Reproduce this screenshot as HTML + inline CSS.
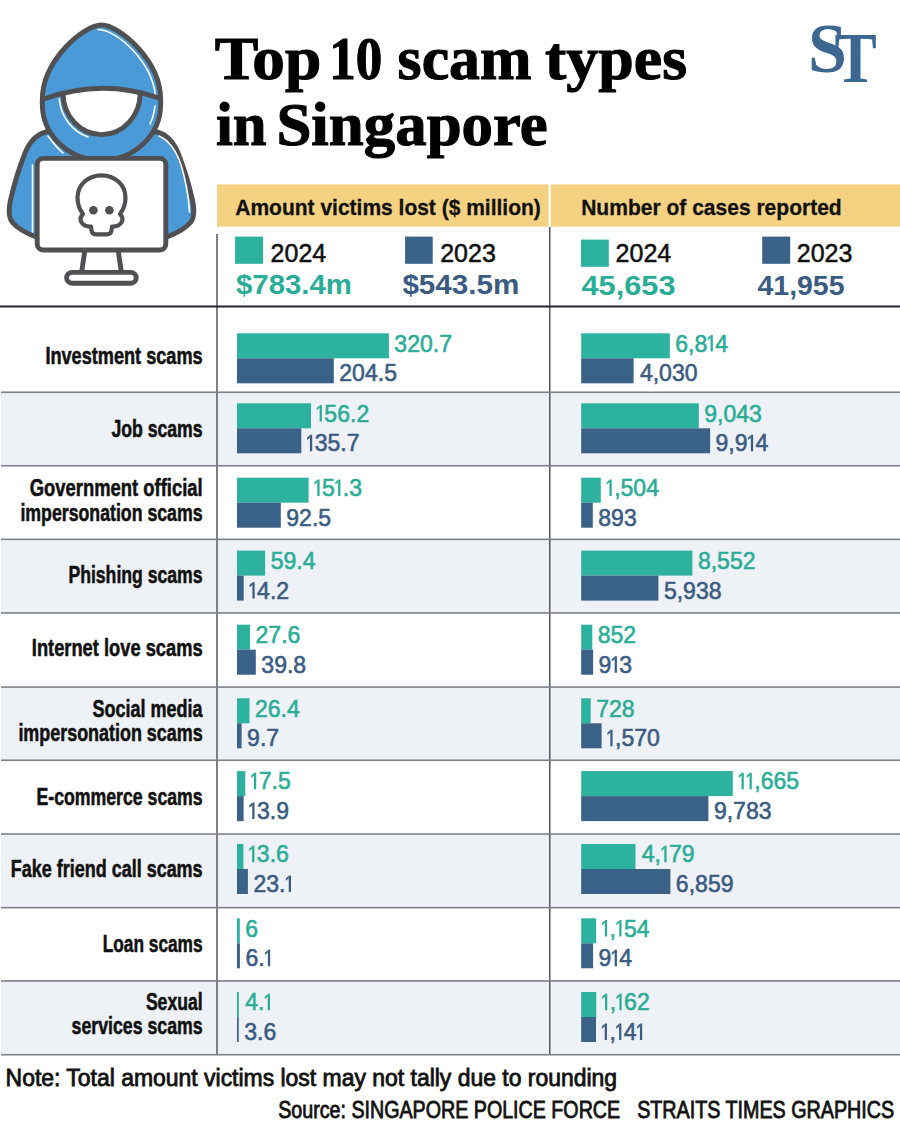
<!DOCTYPE html><html><head><meta charset="utf-8"><style>html,body{margin:0;padding:0;background:#fff;}svg{display:block;}</style></head><body>
<svg width="900" height="1125" viewBox="0 0 900 1125">
<rect x="0" y="0" width="900" height="1125" fill="#fff"/>
<rect x="1" y="392.2" width="899" height="73.5" fill="#eef1f6"/>
<rect x="1" y="539.3" width="899" height="73.6" fill="#eef1f6"/>
<rect x="1" y="687.0" width="899" height="73.2" fill="#eef1f6"/>
<rect x="1" y="834.0" width="899" height="73.6" fill="#eef1f6"/>
<rect x="1" y="980.9" width="899" height="73.8" fill="#eef1f6"/>
<rect x="217" y="184.4" width="331.6" height="42.3" fill="#f5d282"/>
<rect x="550.6" y="184.4" width="349.4" height="42.3" fill="#f5d282"/>
<rect x="216" y="234" width="2" height="821" fill="#7f7f88"/>
<rect x="549" y="227" width="1.5" height="828" fill="#55555f"/>
<rect x="1" y="391.45" width="899" height="1.6" fill="#80808a"/>
<rect x="1" y="464.95" width="899" height="1.6" fill="#80808a"/>
<rect x="1" y="538.55" width="899" height="1.6" fill="#80808a"/>
<rect x="1" y="612.15" width="899" height="1.6" fill="#80808a"/>
<rect x="1" y="686.25" width="899" height="1.6" fill="#80808a"/>
<rect x="1" y="759.45" width="899" height="1.6" fill="#80808a"/>
<rect x="1" y="833.25" width="899" height="1.6" fill="#80808a"/>
<rect x="1" y="906.85" width="899" height="1.6" fill="#80808a"/>
<rect x="1" y="980.15" width="899" height="1.6" fill="#80808a"/>
<rect x="1" y="1053.95" width="899" height="1.6" fill="#80808a"/>
<rect x="0" y="305.5" width="900" height="2" fill="#22222f"/>
<g font-family="Liberation Serif" font-weight="700" font-size="62" fill="#000" stroke="#000" stroke-width="1.1">
<text x="214.8" y="79.3" textLength="106.5" lengthAdjust="spacingAndGlyphs">Top</text>
<text x="329.3" y="79.3" textLength="53.1" lengthAdjust="spacingAndGlyphs">10</text>
<text x="397.6" y="79.3" textLength="133.9" lengthAdjust="spacingAndGlyphs">scam</text>
<text x="545.0" y="79.3" textLength="142.0" lengthAdjust="spacingAndGlyphs">types</text>
<text x="216.0" y="144.9" textLength="50.6" lengthAdjust="spacingAndGlyphs">in</text>
<text x="276.4" y="144.9" textLength="271.3" lengthAdjust="spacingAndGlyphs">Singapore</text>
</g>
<g font-family="Liberation Serif" font-weight="700" font-size="70" fill="#3b6791">
<text x="808" y="72">S</text><text transform="translate(834.6 81.5) scale(0.88 1)" font-size="72">T</text>
</g>
<g font-family="Liberation Sans" font-weight="700" font-size="22" fill="#111" stroke="#111" stroke-width="0.3">
<text x="235.3" y="214.6" textLength="305.5" lengthAdjust="spacingAndGlyphs">Amount victims lost ($ million)</text>
<text x="581.2" y="214.6" textLength="260.5" lengthAdjust="spacingAndGlyphs">Number of cases reported</text>
</g>
<rect x="235.1" y="236.6" width="28" height="27.2" fill="#2cb29e"/>
<rect x="405.1" y="236.6" width="27.6" height="27.2" fill="#3a6188"/>
<rect x="581" y="239.6" width="27.8" height="27.2" fill="#2cb29e"/>
<rect x="762.2" y="236.6" width="28" height="27.2" fill="#3a6188"/>
<g font-family="Liberation Sans" font-size="25" fill="#111" stroke="#111" stroke-width="0.5">
<text x="270.6" y="262">2024</text><text x="440.2" y="262">2023</text>
<text x="615.6" y="262">2024</text><text x="796.8" y="262">2023</text>
</g>
<g font-family="Liberation Sans" font-weight="700" font-size="28.5">
<text x="236" y="294.4" fill="#2aad97" textLength="116" lengthAdjust="spacingAndGlyphs">$783.4m</text>
<text x="402.4" y="294.4" fill="#3a5c82" textLength="117" lengthAdjust="spacingAndGlyphs">$543.5m</text>
<text x="581.5" y="294.7" fill="#2aad97" textLength="94" lengthAdjust="spacingAndGlyphs">45,653</text>
<text x="757.5" y="294.7" fill="#3a5c82" textLength="87" lengthAdjust="spacingAndGlyphs">41,955</text>
</g>
<rect x="237.0" y="333.3" width="151.9" height="25.0" fill="#2cb29e"/>
<rect x="237.0" y="358.3" width="96.8" height="25.0" fill="#3a6188"/>
<g transform="translate(394.35 351.50) scale(0.94 1)"><text x="0.00 13.62 27.24 40.87 47.68" y="0" font-family="Liberation Sans" font-size="24.5" fill="#2aad97" stroke="#2aad97" stroke-width="0.6">320.7</text></g>
<g transform="translate(339.33 381.30) scale(0.94 1)"><text x="0.00 13.62 27.24 40.87 47.68" y="0" font-family="Liberation Sans" font-size="24.5" fill="#3a5c82" stroke="#3a5c82" stroke-width="0.6">204.5</text></g>
<rect x="581.2" y="333.3" width="88.6" height="25.0" fill="#2cb29e"/>
<rect x="581.2" y="358.3" width="52.4" height="25.0" fill="#3a6188"/>
<g transform="translate(675.28 351.50) scale(0.94 1)"><text x="0.00 13.62 20.43 42.57" y="0" font-family="Liberation Sans" font-size="24.5" fill="#2aad97" stroke="#2aad97" stroke-width="0.6">6,84</text><path d="M37.56,0 V-16.50 H39.96 V0 Z M37.76,-16.50 L34.46,-13.50 L34.46,-11.30 L37.76,-13.70 Z" fill="#2aad97"/></g>
<g transform="translate(639.89 381.30) scale(0.94 1)"><text x="0.00 13.62 20.43 34.06 47.68" y="0" font-family="Liberation Sans" font-size="24.5" fill="#3a5c82" stroke="#3a5c82" stroke-width="0.6">4,030</text></g>
<text x="202.6" y="363.8" text-anchor="end" font-family="Liberation Sans" font-weight="700" font-size="23" fill="#111" stroke="#111" stroke-width="0.55" textLength="157.2" lengthAdjust="spacingAndGlyphs">Investment scams</text>
<rect x="237.0" y="403.3" width="74.0" height="25.0" fill="#2cb29e"/>
<rect x="237.0" y="428.3" width="64.3" height="25.0" fill="#3a6188"/>
<g transform="translate(316.36 421.50) scale(0.94 1)"><text x="8.51 22.13 35.75 42.57" y="0" font-family="Liberation Sans" font-size="24.5" fill="#2aad97" stroke="#2aad97" stroke-width="0.6">56.2</text><path d="M3.50,0 V-16.50 H5.90 V0 Z M3.70,-16.50 L0.40,-13.50 L0.40,-11.30 L3.70,-13.70 Z" fill="#2aad97"/></g>
<g transform="translate(306.65 451.30) scale(0.94 1)"><text x="8.51 22.13 35.75 42.57" y="0" font-family="Liberation Sans" font-size="24.5" fill="#3a5c82" stroke="#3a5c82" stroke-width="0.6">35.7</text><path d="M3.50,0 V-16.50 H5.90 V0 Z M3.70,-16.50 L0.40,-13.50 L0.40,-11.30 L3.70,-13.70 Z" fill="#3a5c82"/></g>
<rect x="581.2" y="403.3" width="117.6" height="25.0" fill="#2cb29e"/>
<rect x="581.2" y="428.3" width="128.9" height="25.0" fill="#3a6188"/>
<g transform="translate(704.26 421.50) scale(0.94 1)"><text x="0.00 13.62 20.43 34.06 47.68" y="0" font-family="Liberation Sans" font-size="24.5" fill="#2aad97" stroke="#2aad97" stroke-width="0.6">9,043</text></g>
<g transform="translate(715.58 451.30) scale(0.94 1)"><text x="0.00 13.62 20.43 42.57" y="0" font-family="Liberation Sans" font-size="24.5" fill="#3a5c82" stroke="#3a5c82" stroke-width="0.6">9,94</text><path d="M37.56,0 V-16.50 H39.96 V0 Z M37.76,-16.50 L34.46,-13.50 L34.46,-11.30 L37.76,-13.70 Z" fill="#3a5c82"/></g>
<text x="202.6" y="436.6" text-anchor="end" font-family="Liberation Sans" font-weight="700" font-size="23" fill="#111" stroke="#111" stroke-width="0.55" textLength="91.2" lengthAdjust="spacingAndGlyphs">Job scams</text>
<rect x="237.0" y="477.7" width="71.6" height="25.0" fill="#2cb29e"/>
<rect x="237.0" y="502.7" width="43.8" height="25.0" fill="#3a6188"/>
<g transform="translate(314.04 495.90) scale(0.94 1)"><text x="8.51 30.64 37.45" y="0" font-family="Liberation Sans" font-size="24.5" fill="#2aad97" stroke="#2aad97" stroke-width="0.6">5.3</text><path d="M3.50,0 V-16.50 H5.90 V0 Z M3.70,-16.50 L0.40,-13.50 L0.40,-11.30 L3.70,-13.70 Z" fill="#2aad97"/><path d="M25.63,0 V-16.50 H28.03 V0 Z M25.83,-16.50 L22.53,-13.50 L22.53,-11.30 L25.83,-13.70 Z" fill="#2aad97"/></g>
<g transform="translate(286.30 525.70) scale(0.94 1)"><text x="0.00 13.62 27.24 34.06" y="0" font-family="Liberation Sans" font-size="24.5" fill="#3a5c82" stroke="#3a5c82" stroke-width="0.6">92.5</text></g>
<rect x="581.2" y="477.7" width="19.6" height="25.0" fill="#2cb29e"/>
<rect x="581.2" y="502.7" width="11.6" height="25.0" fill="#3a6188"/>
<g transform="translate(606.15 495.90) scale(0.94 1)"><text x="8.51 15.32 28.94 42.57" y="0" font-family="Liberation Sans" font-size="24.5" fill="#2aad97" stroke="#2aad97" stroke-width="0.6">,504</text><path d="M3.50,0 V-16.50 H5.90 V0 Z M3.70,-16.50 L0.40,-13.50 L0.40,-11.30 L3.70,-13.70 Z" fill="#2aad97"/></g>
<g transform="translate(598.31 525.70) scale(0.94 1)"><text x="0.00 13.62 27.24" y="0" font-family="Liberation Sans" font-size="24.5" fill="#3a5c82" stroke="#3a5c82" stroke-width="0.6">893</text></g>
<text x="202.6" y="495.8" text-anchor="end" font-family="Liberation Sans" font-weight="700" font-size="23" fill="#111" stroke="#111" stroke-width="0.55" textLength="172.8" lengthAdjust="spacingAndGlyphs">Government official</text>
<text x="202.6" y="520.7" text-anchor="end" font-family="Liberation Sans" font-weight="700" font-size="23" fill="#111" stroke="#111" stroke-width="0.55" textLength="182.2" lengthAdjust="spacingAndGlyphs">impersonation scams</text>
<rect x="237.0" y="550.6" width="28.1" height="25.0" fill="#2cb29e"/>
<rect x="237.0" y="575.6" width="6.7" height="25.0" fill="#3a6188"/>
<g transform="translate(270.63 568.80) scale(0.94 1)"><text x="0.00 13.62 27.24 34.06" y="0" font-family="Liberation Sans" font-size="24.5" fill="#2aad97" stroke="#2aad97" stroke-width="0.6">59.4</text></g>
<g transform="translate(249.12 598.60) scale(0.94 1)"><text x="8.51 22.13 28.94" y="0" font-family="Liberation Sans" font-size="24.5" fill="#3a5c82" stroke="#3a5c82" stroke-width="0.6">4.2</text><path d="M3.50,0 V-16.50 H5.90 V0 Z M3.70,-16.50 L0.40,-13.50 L0.40,-11.30 L3.70,-13.70 Z" fill="#3a5c82"/></g>
<rect x="581.2" y="550.6" width="111.2" height="25.0" fill="#2cb29e"/>
<rect x="581.2" y="575.6" width="77.2" height="25.0" fill="#3a6188"/>
<g transform="translate(697.88 568.80) scale(0.94 1)"><text x="0.00 13.62 20.43 34.06 47.68" y="0" font-family="Liberation Sans" font-size="24.5" fill="#2aad97" stroke="#2aad97" stroke-width="0.6">8,552</text></g>
<g transform="translate(663.89 598.60) scale(0.94 1)"><text x="0.00 13.62 20.43 34.06 47.68" y="0" font-family="Liberation Sans" font-size="24.5" fill="#3a5c82" stroke="#3a5c82" stroke-width="0.6">5,938</text></g>
<text x="202.6" y="583.3" text-anchor="end" font-family="Liberation Sans" font-weight="700" font-size="23" fill="#111" stroke="#111" stroke-width="0.55" textLength="134.2" lengthAdjust="spacingAndGlyphs">Phishing scams</text>
<rect x="237.0" y="624.7" width="13.1" height="25.0" fill="#2cb29e"/>
<rect x="237.0" y="649.7" width="18.8" height="25.0" fill="#3a6188"/>
<g transform="translate(255.57 642.90) scale(0.94 1)"><text x="0.00 13.62 27.24 34.06" y="0" font-family="Liberation Sans" font-size="24.5" fill="#2aad97" stroke="#2aad97" stroke-width="0.6">27.6</text></g>
<g transform="translate(261.35 672.70) scale(0.94 1)"><text x="0.00 13.62 27.24 34.06" y="0" font-family="Liberation Sans" font-size="24.5" fill="#3a5c82" stroke="#3a5c82" stroke-width="0.6">39.8</text></g>
<rect x="581.2" y="624.7" width="11.1" height="25.0" fill="#2cb29e"/>
<rect x="581.2" y="649.7" width="11.9" height="25.0" fill="#3a6188"/>
<g transform="translate(597.78 642.90) scale(0.94 1)"><text x="0.00 13.62 27.24" y="0" font-family="Liberation Sans" font-size="24.5" fill="#2aad97" stroke="#2aad97" stroke-width="0.6">852</text></g>
<g transform="translate(598.57 672.70) scale(0.94 1)"><text x="0.00 22.13" y="0" font-family="Liberation Sans" font-size="24.5" fill="#3a5c82" stroke="#3a5c82" stroke-width="0.6">93</text><path d="M17.12,0 V-16.50 H19.52 V0 Z M17.32,-16.50 L14.02,-13.50 L14.02,-11.30 L17.32,-13.70 Z" fill="#3a5c82"/></g>
<text x="202.6" y="655.7" text-anchor="end" font-family="Liberation Sans" font-weight="700" font-size="23" fill="#111" stroke="#111" stroke-width="0.55" textLength="170.8" lengthAdjust="spacingAndGlyphs">Internet love scams</text>
<rect x="237.0" y="698.3" width="12.5" height="25.0" fill="#2cb29e"/>
<rect x="237.0" y="723.3" width="4.6" height="25.0" fill="#3a6188"/>
<g transform="translate(255.00 716.50) scale(0.94 1)"><text x="0.00 13.62 27.24 34.06" y="0" font-family="Liberation Sans" font-size="24.5" fill="#2aad97" stroke="#2aad97" stroke-width="0.6">26.4</text></g>
<g transform="translate(247.09 746.30) scale(0.94 1)"><text x="0.00 13.62 20.43" y="0" font-family="Liberation Sans" font-size="24.5" fill="#3a5c82" stroke="#3a5c82" stroke-width="0.6">9.7</text></g>
<rect x="581.2" y="698.3" width="9.5" height="25.0" fill="#2cb29e"/>
<rect x="581.2" y="723.3" width="20.4" height="25.0" fill="#3a6188"/>
<g transform="translate(596.16 716.50) scale(0.94 1)"><text x="0.00 13.62 27.24" y="0" font-family="Liberation Sans" font-size="24.5" fill="#2aad97" stroke="#2aad97" stroke-width="0.6">728</text></g>
<g transform="translate(607.01 746.30) scale(0.94 1)"><text x="8.51 15.32 28.94 42.57" y="0" font-family="Liberation Sans" font-size="24.5" fill="#3a5c82" stroke="#3a5c82" stroke-width="0.6">,570</text><path d="M3.50,0 V-16.50 H5.90 V0 Z M3.70,-16.50 L0.40,-13.50 L0.40,-11.30 L3.70,-13.70 Z" fill="#3a5c82"/></g>
<text x="202.6" y="716.8" text-anchor="end" font-family="Liberation Sans" font-weight="700" font-size="23" fill="#111" stroke="#111" stroke-width="0.55" textLength="110.1" lengthAdjust="spacingAndGlyphs">Social media</text>
<text x="202.6" y="741.3" text-anchor="end" font-family="Liberation Sans" font-weight="700" font-size="23" fill="#111" stroke="#111" stroke-width="0.55" textLength="184.2" lengthAdjust="spacingAndGlyphs">impersonation scams</text>
<rect x="237.0" y="771.1" width="8.3" height="25.0" fill="#2cb29e"/>
<rect x="237.0" y="796.1" width="6.6" height="25.0" fill="#3a6188"/>
<g transform="translate(250.69 789.30) scale(0.94 1)"><text x="8.51 22.13 28.94" y="0" font-family="Liberation Sans" font-size="24.5" fill="#2aad97" stroke="#2aad97" stroke-width="0.6">7.5</text><path d="M3.50,0 V-16.50 H5.90 V0 Z M3.70,-16.50 L0.40,-13.50 L0.40,-11.30 L3.70,-13.70 Z" fill="#2aad97"/></g>
<g transform="translate(248.98 819.10) scale(0.94 1)"><text x="8.51 22.13 28.94" y="0" font-family="Liberation Sans" font-size="24.5" fill="#3a5c82" stroke="#3a5c82" stroke-width="0.6">3.9</text><path d="M3.50,0 V-16.50 H5.90 V0 Z M3.70,-16.50 L0.40,-13.50 L0.40,-11.30 L3.70,-13.70 Z" fill="#3a5c82"/></g>
<rect x="581.2" y="771.1" width="151.6" height="25.0" fill="#2cb29e"/>
<rect x="581.2" y="796.1" width="127.2" height="25.0" fill="#3a6188"/>
<g transform="translate(738.25 789.30) scale(0.94 1)"><text x="17.02 23.83 37.45 51.08" y="0" font-family="Liberation Sans" font-size="24.5" fill="#2aad97" stroke="#2aad97" stroke-width="0.6">,665</text><path d="M3.50,0 V-16.50 H5.90 V0 Z M3.70,-16.50 L0.40,-13.50 L0.40,-11.30 L3.70,-13.70 Z" fill="#2aad97"/><path d="M12.01,0 V-16.50 H14.41 V0 Z M12.21,-16.50 L8.91,-13.50 L8.91,-11.30 L12.21,-13.70 Z" fill="#2aad97"/></g>
<g transform="translate(713.88 819.10) scale(0.94 1)"><text x="0.00 13.62 20.43 34.06 47.68" y="0" font-family="Liberation Sans" font-size="24.5" fill="#3a5c82" stroke="#3a5c82" stroke-width="0.6">9,783</text></g>
<text x="202.6" y="805.0" text-anchor="end" font-family="Liberation Sans" font-weight="700" font-size="23" fill="#111" stroke="#111" stroke-width="0.55" textLength="166.1" lengthAdjust="spacingAndGlyphs">E-commerce scams</text>
<rect x="237.0" y="844.0" width="6.4" height="25.0" fill="#2cb29e"/>
<rect x="237.0" y="869.0" width="10.9" height="25.0" fill="#3a6188"/>
<g transform="translate(248.84 862.20) scale(0.94 1)"><text x="8.51 22.13 28.94" y="0" font-family="Liberation Sans" font-size="24.5" fill="#2aad97" stroke="#2aad97" stroke-width="0.6">3.6</text><path d="M3.50,0 V-16.50 H5.90 V0 Z M3.70,-16.50 L0.40,-13.50 L0.40,-11.30 L3.70,-13.70 Z" fill="#2aad97"/></g>
<g transform="translate(253.44 892.00) scale(0.94 1)"><text x="0.00 13.62 27.24" y="0" font-family="Liberation Sans" font-size="24.5" fill="#3a5c82" stroke="#3a5c82" stroke-width="0.6">23.</text><path d="M37.56,0 V-16.50 H39.96 V0 Z M37.76,-16.50 L34.46,-13.50 L34.46,-11.30 L37.76,-13.70 Z" fill="#3a5c82"/></g>
<rect x="581.2" y="844.0" width="54.3" height="25.0" fill="#2cb29e"/>
<rect x="581.2" y="869.0" width="89.2" height="25.0" fill="#3a6188"/>
<g transform="translate(641.83 862.20) scale(0.94 1)"><text x="0.00 13.62 28.94 42.57" y="0" font-family="Liberation Sans" font-size="24.5" fill="#2aad97" stroke="#2aad97" stroke-width="0.6">4,79</text><path d="M23.93,0 V-16.50 H26.33 V0 Z M24.13,-16.50 L20.83,-13.50 L20.83,-11.30 L24.13,-13.70 Z" fill="#2aad97"/></g>
<g transform="translate(675.87 892.00) scale(0.94 1)"><text x="0.00 13.62 20.43 34.06 47.68" y="0" font-family="Liberation Sans" font-size="24.5" fill="#3a5c82" stroke="#3a5c82" stroke-width="0.6">6,859</text></g>
<text x="202.6" y="876.9" text-anchor="end" font-family="Liberation Sans" font-weight="700" font-size="23" fill="#111" stroke="#111" stroke-width="0.55" textLength="191.8" lengthAdjust="spacingAndGlyphs">Fake friend call scams</text>
<rect x="237.0" y="918.3" width="2.8" height="25.0" fill="#2cb29e"/>
<rect x="237.0" y="943.3" width="2.9" height="25.0" fill="#3a6188"/>
<g transform="translate(245.34 936.50) scale(0.94 1)"><text x="0.00" y="0" font-family="Liberation Sans" font-size="24.5" fill="#2aad97" stroke="#2aad97" stroke-width="0.6">6</text></g>
<g transform="translate(245.39 966.30) scale(0.94 1)"><text x="0.00 13.62" y="0" font-family="Liberation Sans" font-size="24.5" fill="#3a5c82" stroke="#3a5c82" stroke-width="0.6">6.</text><path d="M23.93,0 V-16.50 H26.33 V0 Z M24.13,-16.50 L20.83,-13.50 L20.83,-11.30 L24.13,-13.70 Z" fill="#3a5c82"/></g>
<rect x="581.2" y="918.3" width="15.0" height="25.0" fill="#2cb29e"/>
<rect x="581.2" y="943.3" width="11.9" height="25.0" fill="#3a6188"/>
<g transform="translate(601.60 936.50) scale(0.94 1)"><text x="8.51 23.83 37.45" y="0" font-family="Liberation Sans" font-size="24.5" fill="#2aad97" stroke="#2aad97" stroke-width="0.6">,54</text><path d="M3.50,0 V-16.50 H5.90 V0 Z M3.70,-16.50 L0.40,-13.50 L0.40,-11.30 L3.70,-13.70 Z" fill="#2aad97"/><path d="M18.82,0 V-16.50 H21.22 V0 Z M19.02,-16.50 L15.72,-13.50 L15.72,-11.30 L19.02,-13.70 Z" fill="#2aad97"/></g>
<g transform="translate(598.58 966.30) scale(0.94 1)"><text x="0.00 22.13" y="0" font-family="Liberation Sans" font-size="24.5" fill="#3a5c82" stroke="#3a5c82" stroke-width="0.6">94</text><path d="M17.12,0 V-16.50 H19.52 V0 Z M17.32,-16.50 L14.02,-13.50 L14.02,-11.30 L17.32,-13.70 Z" fill="#3a5c82"/></g>
<text x="202.6" y="952.4" text-anchor="end" font-family="Liberation Sans" font-weight="700" font-size="23" fill="#111" stroke="#111" stroke-width="0.55" textLength="99.9" lengthAdjust="spacingAndGlyphs">Loan scams</text>
<rect x="237.0" y="992.0" width="1.9" height="25.0" fill="#2cb29e"/>
<rect x="237.0" y="1017.0" width="1.7" height="25.0" fill="#3a6188"/>
<g transform="translate(245.24 1010.20) scale(0.94 1)"><text x="0.00 13.62" y="0" font-family="Liberation Sans" font-size="24.5" fill="#2aad97" stroke="#2aad97" stroke-width="0.6">4.</text><path d="M23.93,0 V-16.50 H26.33 V0 Z M24.13,-16.50 L20.83,-13.50 L20.83,-11.30 L24.13,-13.70 Z" fill="#2aad97"/></g>
<g transform="translate(244.20 1040.00) scale(0.94 1)"><text x="0.00 13.62 20.43" y="0" font-family="Liberation Sans" font-size="24.5" fill="#3a5c82" stroke="#3a5c82" stroke-width="0.6">3.6</text></g>
<rect x="581.2" y="992.0" width="15.1" height="25.0" fill="#2cb29e"/>
<rect x="581.2" y="1017.0" width="14.8" height="25.0" fill="#3a6188"/>
<g transform="translate(601.71 1010.20) scale(0.94 1)"><text x="8.51 23.83 37.45" y="0" font-family="Liberation Sans" font-size="24.5" fill="#2aad97" stroke="#2aad97" stroke-width="0.6">,62</text><path d="M3.50,0 V-16.50 H5.90 V0 Z M3.70,-16.50 L0.40,-13.50 L0.40,-11.30 L3.70,-13.70 Z" fill="#2aad97"/><path d="M18.82,0 V-16.50 H21.22 V0 Z M19.02,-16.50 L15.72,-13.50 L15.72,-11.30 L19.02,-13.70 Z" fill="#2aad97"/></g>
<g transform="translate(601.43 1040.00) scale(0.94 1)"><text x="8.51 23.83" y="0" font-family="Liberation Sans" font-size="24.5" fill="#3a5c82" stroke="#3a5c82" stroke-width="0.6">,4</text><path d="M3.50,0 V-16.50 H5.90 V0 Z M3.70,-16.50 L0.40,-13.50 L0.40,-11.30 L3.70,-13.70 Z" fill="#3a5c82"/><path d="M18.82,0 V-16.50 H21.22 V0 Z M19.02,-16.50 L15.72,-13.50 L15.72,-11.30 L19.02,-13.70 Z" fill="#3a5c82"/><path d="M40.95,0 V-16.50 H43.35 V0 Z M41.15,-16.50 L37.85,-13.50 L37.85,-11.30 L41.15,-13.70 Z" fill="#3a5c82"/></g>
<text x="202.6" y="1009.9" text-anchor="end" font-family="Liberation Sans" font-weight="700" font-size="23" fill="#111" stroke="#111" stroke-width="0.55" textLength="56.7" lengthAdjust="spacingAndGlyphs">Sexual</text>
<text x="202.6" y="1034.4" text-anchor="end" font-family="Liberation Sans" font-weight="700" font-size="23" fill="#111" stroke="#111" stroke-width="0.55" textLength="131.0" lengthAdjust="spacingAndGlyphs">services scams</text>
<text x="5.6" y="1085.6" font-family="Liberation Sans" font-size="23" fill="#111" stroke="#111" stroke-width="0.8" textLength="611.5" lengthAdjust="spacingAndGlyphs">Note: Total amount victims lost may not tally due to rounding</text>
<text x="278.2" y="1118.4" font-family="Liberation Sans" font-size="23" fill="#111" stroke="#111" stroke-width="0.8" textLength="342" lengthAdjust="spacingAndGlyphs">Source: SINGAPORE POLICE FORCE</text>
<text x="637.2" y="1118.4" font-family="Liberation Sans" font-size="23" fill="#111" stroke="#111" stroke-width="0.8" textLength="257" lengthAdjust="spacingAndGlyphs">STRAITS TIMES GRAPHICS</text>
<g stroke="#505052" stroke-width="4.9" stroke-linejoin="round" stroke-linecap="round">
<path d="M46,132 C38,134 30,141 25,153 C21,163 14,185 10.5,200 C8,212 9,219 13,223 C18,229 26,233 36,237 L167,237 C177,233 185,229 190,223 C194,219 195,212 192.5,200 C189,185 182,163 178,153 C173,141 165,134 157,132 Z" fill="#4a9ad8"/>
<path d="M101.5,25 C84,25 42.3,60 42.3,100 L42.3,104 A59.2 56.3 0 0 0 160.7,104 L160.7,100 C160.7,60 119,25 101.5,25 Z" fill="#4a9ad8"/>
</g>
<g stroke="#fff" stroke-width="1.6" fill="none" stroke-linecap="round">
<path d="M98,29.5 C118,30 152,62 155.5,96"/>
<path d="M155,106 C154,114 152,120 150,124"/>
<path d="M59.3,99 A42 44 0 0 0 88,137"/>
<path d="M48,136 C53,143 57,148 63,153"/>
<path d="M32.5,165 L32.5,232"/>
<path d="M159,136 C168,140 176,150 181,165 C185,178 188.5,195 189.5,212"/>
</g>
<g stroke="#505052" stroke-width="4.9" stroke-linejoin="round" stroke-linecap="round">
<path d="M63,93.2 Q101.6,83.6 140.2,93 A38.6 41.5 0 0 1 63,93.2 Z" fill="#fff" stroke="none"/>
<path d="M63,93.2 A38.6 41.5 0 0 0 140.2,93" fill="none"/>
<path d="M44,99 Q101.5,78 159,98" fill="none"/>
<rect x="37.2" y="158.4" width="128.6" height="91.6" rx="6" fill="#fff"/>
<path d="M84.6,252 L81.8,271 M118.4,252 L121.2,271" fill="none"/>
<rect x="66.6" y="272.4" width="69.6" height="10.8" rx="5.4" fill="#fff"/>
<path d="M91,226.5 L91.5,230.5 Q92,234.3 96,234.3 L107,234.3 Q111,234.3 111.5,230.5 L112,226.5 Q118,227 121.5,222.5 Q124,218 120,214 C124.5,208 125.5,203 125.5,197.5 C125.5,184.5 114.5,175.3 101.5,175.3 C88.5,175.3 77.5,184.5 77.5,197.5 C77.5,203 78.5,208 83,214 Q79,218 81.5,222.5 Q85,227 91,226.5 Z" fill="#fff" stroke-width="4.2"/>
</g>
<circle cx="93.4" cy="210.2" r="4.3" fill="#505052"/><circle cx="109.4" cy="210.2" r="4.3" fill="#505052"/>
</svg></body></html>
